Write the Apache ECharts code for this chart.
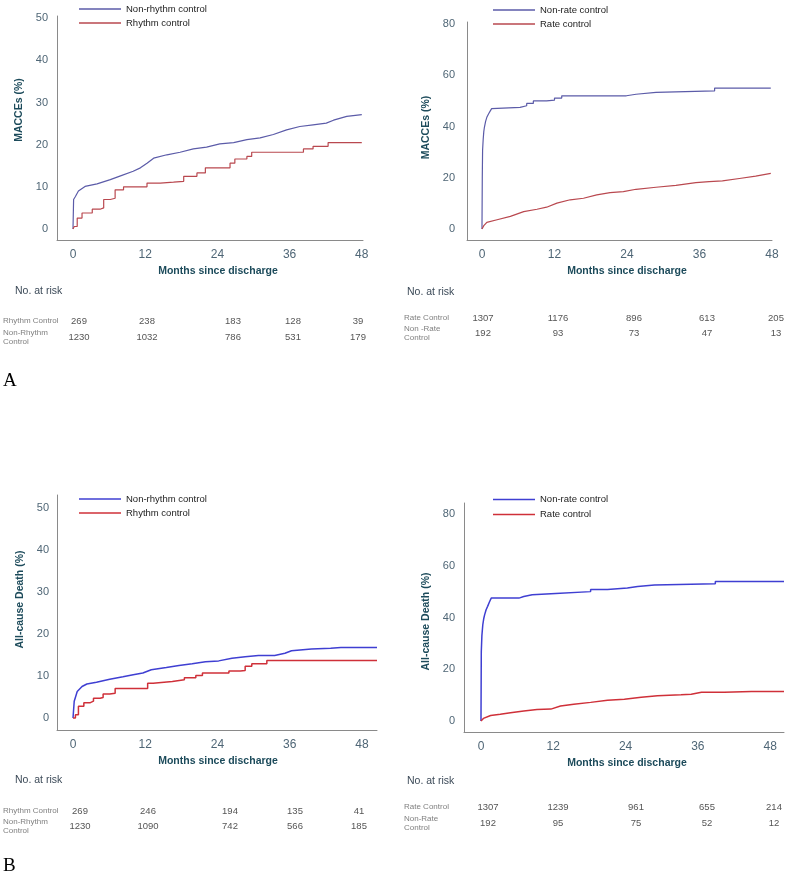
<!DOCTYPE html>
<html>
<head>
<meta charset="utf-8">
<script src="https://cdn.jsdelivr.net/npm/echarts@6/dist/echarts.min.js"></script>
<style>
  body { margin: 0; background: #fff; width: 789px; height: 877px; position: relative; overflow: hidden; }
  .panel { position: absolute; }
</style>
</head>
<body>
<div id="tl" class="panel" style="left:0;top:0;width:394px;height:400px"></div>
<div id="tr" class="panel" style="left:394px;top:0;width:395px;height:400px"></div>
<div id="bl" class="panel" style="left:0;top:485px;width:394px;height:392px"></div>
<div id="br" class="panel" style="left:394px;top:485px;width:395px;height:392px"></div>
<script>
// ---- data ----
var months = [0, 12, 24, 36, 48];
var ticksLeft = [0, 10, 20, 30, 40, 50];
var ticksRight = [0, 20, 40, 60, 80];

// A: MACCEs, rhythm control
var macceNonRhythm = [[0,0],[0.1,7],[0.4,7.7],[0.9,9],[2,10.1],[4,10.7],[6.2,11.7],[7.9,12.6],[10,13.7],[11.2,14.5],[12.3,15.6],[13.4,16.8],[15.6,17.6],[17.8,18.2],[20,19],[22.2,19.4],[24.4,20.2],[26.7,20.5],[28.9,21.2],[31.1,21.6],[33.3,22.4],[35.5,23.5],[37.7,24.3],[39.9,24.7],[42.1,25.1],[43.3,25.8],[45.5,26.7],[48,27.1]];
var macceRhythm = [[0,0],[0.2,0.6],[0.7,2.6],[1.5,3.8],[3.2,4.7],[4.5,5],[5.1,7],[6.2,7.3],[7,9.3],[8.4,10],[12.3,10.9],[14.5,11.1],[16.7,11.3],[18.4,12.5],[20.6,13.3],[22,14.5],[26.1,15.6],[26.9,16.6],[28.9,17.2],[29.7,18.2],[38.3,19],[39.9,19.6],[42.4,20.5],[48,20.5]];
var riskMacceRhythm = [269, 238, 183, 128, 39];
var riskMacceNonRhythm = [1230, 1032, 786, 531, 179];

// A: MACCEs, rate control
var macceNonRate = [[0,0],[0.05,20],[0.1,30.7],[0.2,35],[0.3,38],[0.4,39.7],[0.6,42],[0.8,43.6],[1.1,45],[1.4,46.2],[1.6,47],[1.8,47.5],[6.3,48.1],[7.4,49],[8.5,50],[10.7,50.3],[12,51.1],[13.2,52],[23.9,52.6],[25.5,53.3],[28.8,53.9],[38.5,55],[47.8,55]];
var macceRate = [[0,0],[0.3,1.3],[0.8,2.6],[2.5,3.6],[4.7,4.9],[6.9,6.8],[9.1,7.7],[10.7,8.5],[12.4,10.1],[14.6,11.4],[16.8,12],[19,13.3],[21.2,14.2],[23.4,14.6],[25.5,15.5],[28.8,16.3],[32.1,17],[35.4,18.1],[37.6,18.5],[39.8,18.8],[42.6,19.7],[45.3,20.6],[47.8,21.7]];
var riskMacceRate = [1307, 1176, 896, 613, 205];
var riskMacceNonRate = [192, 93, 73, 47, 13];

// B: all-cause death, rhythm control
var deathNonRhythm = [[0,0],[0.2,4],[0.7,6.3],[1.5,7.5],[2.3,8.1],[3.9,8.5],[6.1,9.2],[8.3,9.8],[10,10.3],[11.6,10.7],[13,11.5],[15.5,12],[17.6,12.5],[19.8,12.9],[22,13.4],[24.2,13.6],[26.4,14.2],[28.6,14.6],[30.8,14.9],[33.5,14.9],[35.2,15.4],[36.3,16],[39.6,16.4],[42.8,16.6],[44.5,16.8],[50.5,16.8]];
var deathRhythm = [[0,0],[0.4,0.8],[0.9,2.8],[1.8,3.6],[2.8,4],[3.4,4.7],[4.5,4.9],[5,5.7],[6.1,5.9],[7,7],[12.4,8.3],[13.3,8.7],[16.5,9.1],[18.5,9.6],[20.4,10.1],[21.5,10.7],[25.9,11.2],[27.8,11.3],[28.6,12.3],[29.7,12.9],[32.2,13.7],[50.5,13.7]];
var riskDeathRhythm = [269, 246, 194, 135, 41];
var riskDeathNonRhythm = [1230, 1090, 742, 566, 185];

// B: all-cause death, rate control
var deathNonRate = [[0,0],[0.05,26.8],[0.15,33],[0.3,37.2],[0.45,39.5],[0.6,41],[0.85,43],[1.1,44.3],[1.4,46],[1.7,47.5],[6.3,48.1],[7.1,48.8],[8.5,49.3],[12.4,50],[18.2,50.8],[21,51.4],[24.3,52],[26,52.6],[28.8,53],[38.9,53.9],[50.3,53.9]];
var deathRate = [[0,0],[0.4,1],[1.6,2.1],[3.2,2.6],[4.9,3.2],[7.1,3.9],[9.3,4.4],[11.6,4.6],[13.2,5.8],[15.4,6.5],[18.2,7.2],[21,8],[23.8,8.4],[26.6,9.2],[29.3,9.8],[33.2,10.1],[34.9,10.3],[36.6,11.1],[40.4,11.1],[44.9,11.4],[50.3,11.4]];
var riskDeathRate = [1307, 1239, 961, 655, 214];
var riskDeathNonRate = [192, 95, 75, 52, 12];

// ---- styles ----
var FONT = "'Liberation Sans', Arial, sans-serif";
var NARROW = "'Liberation Sans Narrow', 'Liberation Sans', sans-serif";
var TICK_COLOR = '#4f6676';
var NAME_COLOR = '#1d4b5b';
var AXIS_COLOR = '#8a8a8a';

function buildPanel(p) {
  var chart = echarts.init(document.getElementById(p.id));

  var graphic = [];
  graphic.push({ type: 'text', x: p.riskTitle[0], y: p.riskTitle[1],
    style: { text: 'No. at risk', align: 'left', verticalAlign: 'middle', fontSize: 10.5, fontFamily: NARROW, fill: '#3c4a58' } });
  p.rows.forEach(function (row) {
    graphic.push({ type: 'text', x: p.labelX, y: row.y,
      style: { text: row.label, align: 'left', verticalAlign: 'middle', fontSize: 8, lineHeight: 9, fontFamily: NARROW, fill: '#808080' } });
    row.values.forEach(function (v, i) {
      graphic.push({ type: 'text', x: p.colX[i], y: row.y,
        style: { text: String(v), align: 'center', verticalAlign: 'middle', fontSize: 9.5, fontFamily: NARROW, fill: '#555' } });
    });
  });
  if (p.letter) {
    graphic.push({ type: 'text', x: 3, y: p.letterY,
      style: { text: p.letter, align: 'left', verticalAlign: 'middle', fontSize: 19, fontFamily: "'Liberation Serif', 'Times New Roman', serif", fill: '#000' } });
  }

  chart.setOption({
    animation: false,
    backgroundColor: '#fff',
    legend: {
      left: p.legend.left, top: p.legend.top, orient: 'vertical', padding: 0,
      icon: 'rect', itemWidth: 42, itemHeight: 1.3, itemGap: 0,
      textStyle: { fontSize: 9.5, lineHeight: p.legend.pitch, fontFamily: FONT, color: '#222' },
      data: [p.series[0].name, p.series[1].name]
    },
    grid: Object.assign({ outerBoundsMode: 'none' }, p.grid),
    xAxis: {
      type: 'value', min: p.x[0], max: p.x[1],
      name: 'Months since discharge', nameLocation: 'middle', nameGap: p.xNameGap,
      nameTextStyle: { fontSize: 10.5, fontWeight: 'bold', fontFamily: FONT, color: NAME_COLOR, padding: p.xNamePad },
      axisLine: { show: true, onZero: false, lineStyle: { color: AXIS_COLOR, width: 1 } },
      axisTick: { show: false },
      splitLine: { show: false },
      axisLabel: { customValues: months, margin: 9, fontSize: 12, fontFamily: FONT, color: TICK_COLOR }
    },
    yAxis: {
      type: 'value', min: p.y[0], max: p.y[1],
      name: p.yName, nameLocation: 'middle', nameRotate: 90, nameGap: p.yNameGap,
      nameTextStyle: { fontSize: 10.5, fontWeight: 'bold', fontFamily: FONT, color: NAME_COLOR, padding: p.yNamePad },
      axisLine: { show: true, onZero: false, lineStyle: { color: AXIS_COLOR, width: 1 } },
      axisTick: { show: false },
      splitLine: { show: false },
      axisLabel: { customValues: p.yTicks, margin: p.yLabelMargin, fontSize: 11, fontFamily: FONT, color: TICK_COLOR }
    },
    series: p.series.map(function (s) {
      return {
        type: 'line', name: s.name, data: s.data, step: s.step || false,
        symbol: 'none', showSymbol: false,
        lineStyle: { color: s.color, width: s.width },
        itemStyle: { color: s.color }
      };
    }),
    graphic: graphic
  });
}

var topBlue = '#5b5ba8', topRed = '#b9484f';
var botBlue = '#3f3fd2', botRed = '#cf3039';

buildPanel({
  id: 'tl', grid: { left: 57, top: 16, width: 306, height: 224 },
  x: [-2.66, 48.2], y: [-2.6, 50.5], yTicks: ticksLeft, yLabelMargin: 9,
  yName: 'MACCEs (%)', yNameGap: 22, yNamePad: [0, 0, 0, 36],
  xNameGap: 23, xNamePad: [0, 0, 0, 16],
  legend: { left: 79, top: 2, pitch: 14 },
  series: [
    { name: 'Non-rhythm control', data: macceNonRhythm, color: topBlue, width: 1.2 },
    { name: 'Rhythm control', data: macceRhythm, color: topRed, width: 1.2, step: 'end' }
  ],
  riskTitle: [15, 291], labelX: 3, colX: [79, 147, 233, 293, 358],
  rows: [
    { label: 'Rhythm Control', values: riskMacceRhythm, y: 321 },
    { label: 'Non-Rhythm\nControl', values: riskMacceNonRhythm, y: 337 }
  ],
  letter: 'A', letterY: 381
});

buildPanel({
  id: 'tr', grid: { left: 73, top: 22, width: 305, height: 218 },
  x: [-2.48, 48], y: [-4.3, 80.8], yTicks: ticksRight, yLabelMargin: 12,
  yName: 'MACCEs (%)', yNameGap: 24, yNamePad: [0, 0, 0, 7],
  xNameGap: 25, xNamePad: [0, 0, 0, 15],
  legend: { left: 99, top: 3, pitch: 14 },
  series: [
    { name: 'Non-rate control', data: macceNonRate, color: topBlue, width: 1.2, step: 'end' },
    { name: 'Rate control', data: macceRate, color: topRed, width: 1.2 }
  ],
  riskTitle: [13, 292], labelX: 10, colX: [89, 164, 240, 313, 382],
  rows: [
    { label: 'Rate Control', values: riskMacceRate, y: 318 },
    { label: 'Non -Rate\nControl', values: riskMacceNonRate, y: 333 }
  ]
});

buildPanel({
  id: 'bl', grid: { left: 57, top: 10, width: 320, height: 235 },
  x: [-2.66, 50.5], y: [-2.86, 53.1], yTicks: ticksLeft, yLabelMargin: 8,
  yName: 'All-cause Death (%)', yNameGap: 22, yNamePad: [0, 0, 0, 26],
  xNameGap: 23, xNamePad: [0, 0, 0, 2],
  legend: { left: 79, top: 7, pitch: 14 },
  series: [
    { name: 'Non-rhythm control', data: deathNonRhythm, color: botBlue, width: 1.5 },
    { name: 'Rhythm control', data: deathRhythm, color: botRed, width: 1.5, step: 'end' }
  ],
  riskTitle: [15, 295], labelX: 3, colX: [80, 148, 230, 295, 359],
  rows: [
    { label: 'Rhythm Control', values: riskDeathRhythm, y: 326 },
    { label: 'Non-Rhythm\nControl', values: riskDeathNonRhythm, y: 341 }
  ],
  letter: 'B', letterY: 381
});

buildPanel({
  id: 'br', grid: { left: 70, top: 18, width: 320, height: 229 },
  x: [-2.82, 50.3], y: [-4.25, 84.25], yTicks: ticksRight, yLabelMargin: 9,
  yName: 'All-cause Death (%)', yNameGap: 21, yNamePad: [0, 8, 0, 0],
  xNameGap: 23, xNamePad: [0, 0, 0, 6],
  legend: { left: 99, top: 7, pitch: 15 },
  series: [
    { name: 'Non-rate control', data: deathNonRate, color: botBlue, width: 1.5, step: 'end' },
    { name: 'Rate control', data: deathRate, color: botRed, width: 1.5 }
  ],
  riskTitle: [13, 296], labelX: 10, colX: [94, 164, 242, 313, 380],
  rows: [
    { label: 'Rate Control', values: riskDeathRate, y: 322 },
    { label: 'Non-Rate\nControl', values: riskDeathNonRate, y: 338 }
  ]
});
</script>
</body>
</html>
